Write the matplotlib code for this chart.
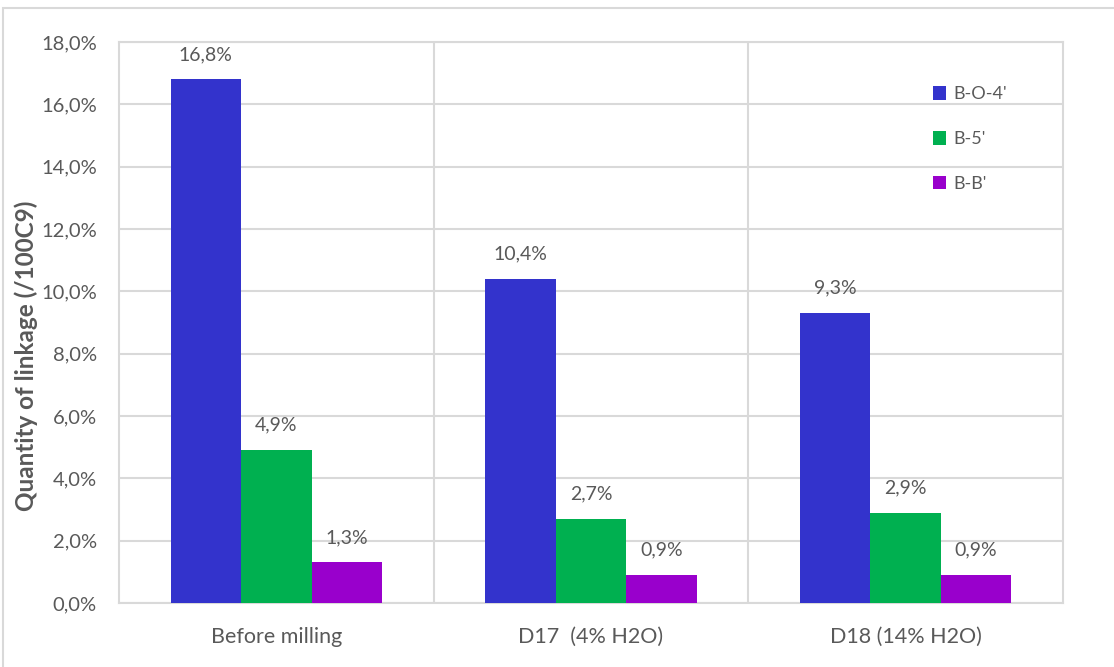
import matplotlib
matplotlib.use("Agg")
import matplotlib.pyplot as plt
from matplotlib.patches import Rectangle
from matplotlib.ticker import FuncFormatter
import numpy as np

categories = ["Before milling", "D17  (4% H2O)", "D18 (14% H2O)"]
series_names = ["B-O-4'", "B-5'", "B-B'"]
bo4 = [16.8, 10.4, 9.3]
b5 = [4.9, 2.7, 2.9]
bb = [1.3, 0.9, 0.9]
colors = ["#3333CC", "#00B050", "#9900CC"]

TXT = "#595959"
GRID = "#D9D9D9"
plt.rcParams["font.family"] = ["Lato", "DejaVu Sans"]

fig = plt.figure(figsize=(11.14, 6.67), dpi=100)
# outer chart-area frame (only top and left edges fall inside the canvas)
fig.patches.append(Rectangle((3 / 1114, -0.05), 1.2, (667 - 8) / 667 + 0.05,
                             transform=fig.transFigure, fill=False,
                             edgecolor=GRID, linewidth=1.5))

ax = fig.add_axes([119 / 1114, 64 / 667, 944 / 1114, 561 / 667])

x = np.arange(len(categories))
w = 0.224
for i, (vals, name, c) in enumerate(zip([bo4, b5, bb], series_names, colors)):
    pos = x + (i - 1) * w
    bars = ax.bar(pos, vals, width=w, color=c, label=name, zorder=3)
    for b, v in zip(bars, vals):
        ax.annotate(f"{v:.1f}%".replace(".", ","),
                    (b.get_x() + b.get_width() / 2, v),
                    xytext=(0, 18), textcoords="offset points",
                    ha="center", va="center", fontsize=14, color=TXT)

ax.set_xlim(-0.5, 2.5)
ax.set_ylim(0, 18)
ax.set_yticks(np.arange(0, 18.1, 2))
ax.yaxis.set_major_formatter(FuncFormatter(lambda v, _: f"{v:.1f}%".replace(".", ",")))
ax.set_xticks(x)
ax.set_xticklabels(categories)
ax.tick_params(axis="both", length=0, labelcolor=TXT)
ax.tick_params(axis="y", pad=16, labelsize=14.5)
ax.tick_params(axis="x", pad=17, labelsize=15.5)

ax.grid(axis="y", color=GRID, linewidth=1.5, zorder=0)
for xv in [0.5, 1.5]:
    ax.axvline(xv, color=GRID, linewidth=1.5, zorder=0)
for s in ax.spines.values():
    s.set_color(GRID)
    s.set_linewidth(1.5)

ax.set_ylabel("Quantity of linkage (/100C9)", fontsize=17.5, fontweight="bold",
              color=TXT)
ax.yaxis.set_label_coords(-0.086, 0.44)

leg = ax.legend(loc="upper left", bbox_to_anchor=(0.845, 0.95), frameon=False,
                fontsize=13, handlelength=0.75, handleheight=0.75,
                handletextpad=0.4, labelspacing=1.6)
for t in leg.get_texts():
    t.set_color(TXT)

fig.savefig("out.png", dpi=100)
